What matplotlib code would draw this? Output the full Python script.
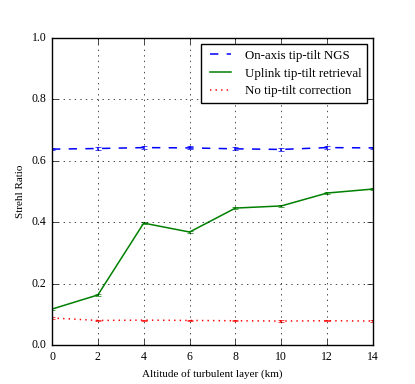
import numpy as np
import matplotlib
matplotlib.use("Agg")
import matplotlib.pyplot as plt
from matplotlib.lines import Line2D

plt.style.use('classic')
plt.rcParams['font.family'] = 'serif'
plt.rcParams['font.serif'] = ['Liberation Serif', 'DejaVu Serif']

alt = [0, 2, 4, 6, 8, 10, 12, 14]
ngs = [0.638, 0.640, 0.643, 0.642, 0.639, 0.637, 0.643, 0.642]
ngs_err = [0.004, 0.005, 0.006, 0.005, 0.005, 0.004, 0.005, 0.004]
uplink = [0.117, 0.163, 0.397, 0.368, 0.446, 0.453, 0.495, 0.508]
uplink_err = [0.003, 0.004, 0.004, 0.003, 0.003, 0.004, 0.003, 0.003]
notilt = [0.088, 0.080, 0.081, 0.080, 0.079, 0.078, 0.079, 0.078]
notilt_err = [0.002, 0.003, 0.002, 0.003, 0.002, 0.002, 0.002, 0.002]

fig = plt.figure(figsize=(4.15, 3.84), dpi=100, facecolor='white')
ax = fig.add_axes([52/415, 1-345/384, 321/415, 307/384])

ax.errorbar(alt, ngs, yerr=ngs_err, color='b', ls='--', lw=1.1, capsize=2.5)
ax.errorbar(alt, uplink, yerr=uplink_err, color='g', ls='-', lw=1.1, capsize=2.5)
ax.errorbar(alt, notilt, yerr=notilt_err, color='r', ls=':', lw=1.1, capsize=2.5)

ax.set_xlim(0, 14)
ax.set_ylim(0, 1.0)
ax.set_xticks(alt)
ax.set_yticks([0.0, 0.2, 0.4, 0.6, 0.8, 1.0])
ax.tick_params(labelsize=8.5)
ax.grid(True)
ax.set_xlabel('Altitude of turbulent layer (km)', fontsize=8)
ax.set_ylabel('Strehl Ratio', fontsize=8)

handles = [Line2D([], [], color='b', ls='--', lw=1.1),
           Line2D([], [], color='g', ls='-', lw=1.1),
           Line2D([], [], color='r', ls=':', lw=1.1)]
labels = ['On-axis tip-tilt NGS', 'Uplink tip-tilt retrieval', 'No tip-tilt correction']
ax.legend(handles, labels, loc='upper right', fontsize=9.3, fancybox=False,
          handlelength=2.2, borderaxespad=0.5, labelspacing=0.45)

plt.savefig('out.png', dpi=100, facecolor='white')
